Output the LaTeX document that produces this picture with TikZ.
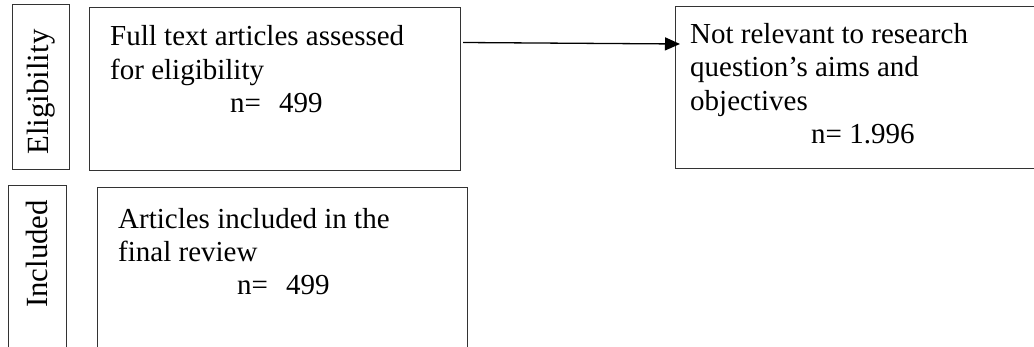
\documentclass[tikz,border=0pt]{standalone}
\usepackage{fontspec}
\setmainfont{Liberation Serif}
\usetikzlibrary{arrows.meta}
\begin{document}
\begin{tikzpicture}[x=1pt,y=-1pt,
  frame/.style={draw=black!80, line width=1.1pt, rectangle, inner sep=0pt, anchor=north west},
  txt/.style={anchor=base west, inner sep=0pt, font=\fontsize{29}{33.4}\selectfont},
  side/.style={rotate=90, inner sep=0pt, font=\fontsize{30.8}{35}\selectfont},
  conn/.style={draw=black, line width=1.3pt, -{Triangle[length=15pt,width=13pt]}}]
\clip (0,0) rectangle (1034,347);
% boxes
\node[frame, minimum width=57pt, minimum height=165pt] (elbox) at (12,4) {};
\node[frame, minimum width=371pt, minimum height=163pt] (ftbox) at (89,7) {};
\node[frame, minimum width=420pt, minimum height=162pt] (nrbox) at (675,6) {};
\node[frame, minimum width=58pt, minimum height=200pt] (inbox) at (8,185) {};
\node[frame, minimum width=370pt, minimum height=200pt] (arbox) at (97,187) {};
% side labels
\node[side] (eltxt) at (41,92) {Eligibility};
\node[side] (intxt) at (37,254) {Included};
% texts
\node[txt] (ft1) at (110,46) {Full text articles assessed};
\node[txt] (ft2) at (110,80) {for eligibility};
\node[txt] (ft3) at (230,113) {n=\hspace{18pt}499};
\node[txt] (nr1) at (690,43.5) {Not relevant to research};
\node[txt] (nr2) at (690,77) {question’s aims and};
\node[txt] (nr3) at (690,110.5) {objectives};
\node[txt] (nr4) at (811,144) {n= 1.996};
\node[txt] (ar1) at (118,229) {Articles included in the};
\node[txt] (ar2) at (118,262) {final review};
\node[txt] (ar3) at (237,295) {n=\hspace{18pt}499};
% connector
\coordinate (as) at ([shift={(2,35.5)}]ftbox.north east);
\coordinate (ae) at ([shift={(5,38)}]nrbox.north west);
\draw[conn] (as) -- (ae);
\end{tikzpicture}
\end{document}
